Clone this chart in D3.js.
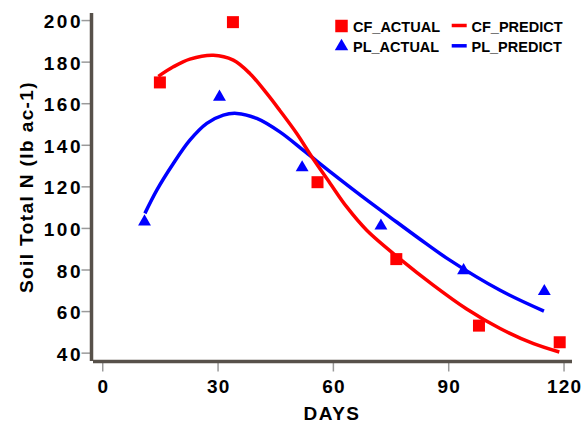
<!DOCTYPE html>
<html>
<head>
<meta charset="utf-8">
<script src="https://cdn.jsdelivr.net/npm/d3@7"></script>
<style>
  html, body { margin: 0; padding: 0; background: #fff; }
  svg { display: block; font-family: "Liberation Sans", Arial, sans-serif; }
</style>
</head>
<body>
<svg id="chart" width="582" height="424"></svg>
<script>
// ---- data ----
const cfActualDays = [15, 34, 56, 76.5, 98, 119];
const cfActualVals = [170, 199, 122, 85, 53, 45];
const plActualDays = [11, 30.5, 52, 72.5, 94, 115];
const plActualVals = [103, 163, 129, 101, 79.5, 69.5];
const cfPredictDays = [14.6, 18.5, 22.8, 28.9, 34.1, 38.4, 42.8, 46.2, 50.6, 54.5, 59.3, 63.6, 68.8, 77.5, 86.1, 94.8, 103.5, 112.2, 118.9];
const cfPredictVals = [172.9, 177.5, 181.2, 183.1, 180.7, 174.3, 164.7, 156.5, 145.4, 134.2, 121.4, 110.1, 98.9, 85, 72.5, 61, 51.6, 44.3, 40.3];
const plPredictDays = [11.1, 14.2, 18.5, 22.8, 27.2, 31.5, 35, 40.2, 46.2, 53, 60, 67.5, 75, 82.5, 90, 103.5, 114.9];
const plPredictVals = [107, 118.2, 131, 142.2, 150.3, 154.3, 155.1, 152.7, 146.2, 136.3, 126, 115.3, 105, 94.8, 85, 70, 60];
const xTicks = [0, 30, 60, 90, 120];
const yTicks = [40, 60, 80, 100, 120, 140, 160, 180, 200];
const legendItems = [
  { label: "CF_ACTUAL", kind: "square", color: "#ff0000" },
  { label: "CF_PREDICT", kind: "line", color: "#ff0000" },
  { label: "PL_ACTUAL", kind: "triangle", color: "#0000ff" },
  { label: "PL_PREDICT", kind: "line", color: "#0000ff" }
];

const svg = d3.select("#chart");
const axisColor = "#57514a";
const tickColor = "#9a9a9a";

const x = d3.scaleLinear().domain([-2.4, 122.2]).range([93, 572]);
const y = d3.scaleLinear().domain([35.5, 203.4]).range([362, 13]);

// ---- axes ----
const gx = svg.append("g").attr("transform", "translate(0,361.5)")
  .call(d3.axisBottom(x).tickValues(xTicks).tickSize(10).tickSizeOuter(0).tickPadding(8.5));
const gy = svg.append("g").attr("transform", "translate(91.5,0)")
  .call(d3.axisLeft(y).tickValues(yTicks).tickSize(10).tickSizeOuter(0).tickPadding(1));

[gx, gy].forEach(g => {
  g.selectAll(".tick line").attr("stroke", tickColor).attr("stroke-width", 1.5);
  g.select(".domain").attr("stroke", axisColor).attr("stroke-width", 3.5).raise();
  g.selectAll(".tick text")
    .attr("fill", "#000")
    .style("font-size", "19px")
    .style("font-weight", "bold")
    .style("font-family", "'Liberation Sans', Arial, sans-serif");
});
gy.select(".domain").attr("d", "M0,13V361");
gx.select(".domain").attr("d", "M93,0H572");
gx.selectAll(".tick text").style("letter-spacing", "1.2px").attr("dx", "0.6");
gy.selectAll(".tick text").style("letter-spacing", "2.5px").attr("dx", "2.5").attr("dy", "0.4em");

// ---- axis titles ----
svg.append("text")
  .attr("x", 332).attr("y", 420)
  .attr("text-anchor", "middle")
  .style("font-size", "19px").style("font-weight", "bold").style("letter-spacing", "1.5px")
  .text("DAYS");
svg.append("text")
  .attr("transform", "translate(33,187) rotate(-90)")
  .attr("text-anchor", "middle")
  .style("font-size", "19px").style("font-weight", "bold").style("letter-spacing", "1.4px")
  .text("Soil Total N (lb ac-1)");

// ---- predicted curves ----
const line = d3.line().x(d => x(d[0])).y(d => y(d[1])).curve(d3.curveCatmullRom.alpha(0.5));
const cfPred = cfPredictDays.map((d, i) => [d, cfPredictVals[i]]);
const plPred = plPredictDays.map((d, i) => [d, plPredictVals[i]]);
svg.append("path").datum(plPred).attr("d", line)
  .attr("fill", "none").attr("stroke", "#0000ff").attr("stroke-width", 3.5);
svg.append("path").datum(cfPred).attr("d", line)
  .attr("fill", "none").attr("stroke", "#ff0000").attr("stroke-width", 3.5);

// ---- actual points ----
const tri = d3.symbol().type(d3.symbolTriangle).size(72);
const sq = d3.symbol().type(d3.symbolSquare).size(144);
svg.append("g").selectAll("path")
  .data(plActualDays.map((d, i) => [d, plActualVals[i]]))
  .join("path")
  .attr("d", tri)
  .attr("transform", d => `translate(${x(d[0])},${y(d[1])})`)
  .attr("fill", "#0000ff");
svg.append("g").selectAll("path")
  .data(cfActualDays.map((d, i) => [d, cfActualVals[i]]))
  .join("path")
  .attr("d", sq)
  .attr("transform", d => `translate(${x(d[0])},${y(d[1])})`)
  .attr("fill", "#ff0000");

// ---- legend ----
const legPos = [
  { sx: 341.5, sy: 26, tx: 353, ty: 31.7 },
  { sx: 459.2, sy: 25.5, tx: 471.5, ty: 31.7 },
  { sx: 341.5, sy: 46.5, tx: 353, ty: 51.7 },
  { sx: 459.2, sy: 45.8, tx: 471.5, ty: 51.7 }
];
const leg = svg.append("g");
legendItems.forEach((it, i) => {
  const p = legPos[i];
  if (it.kind === "square") {
    leg.append("path").attr("d", d3.symbol().type(d3.symbolSquare).size(156)())
      .attr("transform", `translate(${p.sx},${p.sy})`).attr("fill", it.color);
  } else if (it.kind === "triangle") {
    leg.append("path").attr("d", d3.symbol().type(d3.symbolTriangle).size(78)())
      .attr("transform", `translate(${p.sx},${p.sy})`).attr("fill", it.color);
  } else {
    leg.append("line").attr("x1", p.sx - 7.5).attr("x2", p.sx + 7.5)
      .attr("y1", p.sy).attr("y2", p.sy)
      .attr("stroke", it.color).attr("stroke-width", 3.5);
  }
  leg.append("text").attr("x", p.tx).attr("y", p.ty)
    .style("font-size", "14.5px").style("font-weight", "bold")
    .text(it.label);
});
</script>
</body>
</html>
